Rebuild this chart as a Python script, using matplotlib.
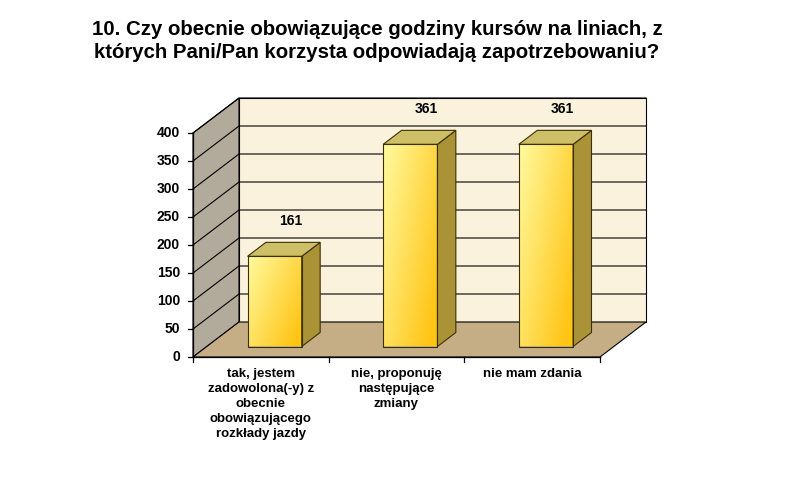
import matplotlib
matplotlib.use('Agg')
import matplotlib.pyplot as plt
import numpy as np
from matplotlib.patches import Polygon

# ---- data ----
categories = ['tak, jestem\nzadowolona(-y) z\nobecnie\nobowiązującego\nrozkłady jazdy',
              'nie, proponuję\nnastępujące\nzmiany',
              'nie mam zdania']
values = [161, 361, 361]
yticks = [0, 50, 100, 150, 200, 250, 300, 350, 400]
title = ('10. Czy obecnie obowiązujące godziny kursów na liniach, z\n'
         'których Pani/Pan korzysta odpowiadają zapotrzebowaniu?')

plt.rcParams['font.family'] = ['Liberation Sans', 'DejaVu Sans']

W, H = 800, 478
fig = plt.figure(figsize=(W / 100, H / 100), dpi=100)
ax = fig.add_axes([0, 0, 1, 1])
ax.set_axis_off()

# layout (pixel geometry of the 3D frame)
X0_PX, X1_PX = 193.0, 600.0
Y0_PX, YTOP_PX = 357.0, 133.0
ymax = 400
ncat = len(categories)
PX_X = (X1_PX - X0_PX) / ncat          # px per category
PX_Y = (Y0_PX - YTOP_PX) / ymax        # px per value unit
DX = 46.0 / PX_X                        # depth shift in x units
DY = 35.0 / PX_Y                        # depth shift in value units

xlim = (-X0_PX / PX_X, (W - X0_PX) / PX_X)
ylim = ((Y0_PX - H) / PX_Y, Y0_PX / PX_Y)


def P(x, z, v):
    return (x + z * DX, v + z * DY)


edge = '#000000'
# walls
floor = Polygon([P(0, 0, 0), P(ncat, 0, 0), P(ncat, 1, 0), P(0, 1, 0)],
                closed=True, fc='#C5AE85', ec=edge, lw=0.8, zorder=1)
left = Polygon([P(0, 0, 0), P(0, 0, ymax), P(0, 1, ymax), P(0, 1, 0)],
               closed=True, fc='#B2AB9B', ec=edge, lw=0.8, zorder=1)
back = Polygon([P(0, 1, 0), P(ncat, 1, 0), P(ncat, 1, ymax), P(0, 1, ymax)],
               closed=True, fc='#FBF2DE', ec=edge, lw=0.8, zorder=1)
for p in (back, left, floor):
    ax.add_patch(p)

# gridlines on left + back wall
for t in yticks[1:]:
    pts = [P(0, 0, t), P(0, 1, t), P(ncat, 1, t)]
    ax.plot([q[0] for q in pts], [q[1] for q in pts], color=edge, lw=0.8, zorder=2)

# axes lines and ticks
ax.plot(*zip(P(0, 0, 0), P(0, 0, ymax)), color=edge, lw=0.9, zorder=3)
ax.plot(*zip(P(0, 0, 0), P(ncat, 0, 0)), color=edge, lw=0.9, zorder=3)
tkx = 5.0 / PX_X
tky = 5.0 / PX_Y
for t in yticks:
    ax.plot([-tkx, 0], [t, t], color=edge, lw=0.9, zorder=3)
    ax.text(-13.0 / PX_X, t, str(t), ha='right', va='center',
            fontsize=10, fontweight='bold', zorder=5)
for i in range(ncat + 1):
    ax.plot([i, i], [0, -tky], color=edge, lw=0.9, zorder=3)

# bars
bw = 0.4
z0, z1 = 0.3, 0.7
c_light = np.array([255, 250, 160]) / 255
c_dark = np.array([255, 196, 20]) / 255
gu = np.linspace(0, 1, 60)[None, :]
gv = np.linspace(0, 1, 200)[:, None]   # 0 at bottom row index 0 (origin lower)
tgrad = np.clip(0.65 * gu + 0.45 * (1 - gv), 0, 1)
grad = c_light[None, None, :] * (1 - tgrad[..., None]) + c_dark[None, None, :] * tgrad[..., None]

for i, v in enumerate(values):
    xl = i + 0.5 - bw / 2
    xr = i + 0.5 + bw / 2
    # front face gradient
    fl, fb = P(xl, z0, 0)
    fr, ft = P(xr, z0, v)
    ax.imshow(grad, extent=(fl, fr, fb, ft), origin='lower', aspect='auto',
              zorder=4, interpolation='bilinear')
    front = Polygon([P(xl, z0, 0), P(xr, z0, 0), P(xr, z0, v), P(xl, z0, v)],
                    closed=True, fc='none', ec='#3A3000', lw=0.8, zorder=4.2)
    side = Polygon([P(xr, z0, 0), P(xr, z1, 0), P(xr, z1, v), P(xr, z0, v)],
                   closed=True, fc='#AA9236', ec='#3A3000', lw=0.8, zorder=4.1)
    top = Polygon([P(xl, z0, v), P(xr, z0, v), P(xr, z1, v), P(xl, z1, v)],
                  closed=True, fc='#CDBF68', ec='#3A3000', lw=0.8, zorder=4.1)
    for p in (side, top, front):
        ax.add_patch(p)
    lx, ly = P(i + 0.5, z1, v)
    ax.text(lx - 2.0 / PX_X, ly + 21.0 / PX_Y, str(v), ha='center', va='center',
            fontsize=10, fontweight='bold', zorder=6)

# category labels
for i, c in enumerate(categories):
    ax.text(i + 0.5, -11.0 / PX_Y, c, ha='center', va='top', fontsize=9.5,
            fontweight='bold', linespacing=1.33, zorder=6)

# title
ax.text((377 - X0_PX) / PX_X, (Y0_PX - 41) / PX_Y, title, ha='center', va='center',
        fontsize=14.7, fontweight='bold', linespacing=1.32, zorder=6)

ax.set_xlim(*xlim)
ax.set_ylim(*ylim)
fig.savefig('out.png', dpi=100, facecolor='white')
